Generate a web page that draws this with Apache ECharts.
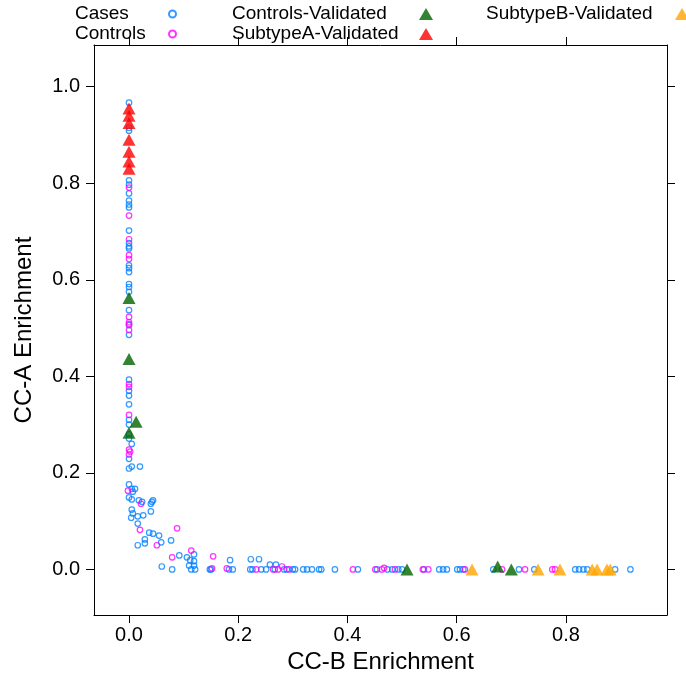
<!DOCTYPE html>
<html>
<head>
<meta charset="utf-8">
<script src="https://cdn.jsdelivr.net/npm/echarts@6/dist/echarts.min.js"></script>
<style>html,body{margin:0;padding:0;background:#fff}#c{width:686px;height:679px}</style>
</head>
<body>
<div id="c"></div>
<script>
// ---- data ----
var xTicks = [0, 0.2, 0.4, 0.6, 0.8];
var yTicks = [0, 0.2, 0.4, 0.6, 0.8, 1.0];
var seriesNames = ['Cases', 'Controls', 'Controls-Validated', 'SubtypeA-Validated', 'SubtypeB-Validated'];

var casesPts = [
  [0.000,0.967],[0.000,0.915],[0.000,0.909],[0.000,0.806],[0.000,0.797],[0.000,0.779],[0.000,0.764],
  [0.000,0.756],[0.000,0.750],[0.000,0.702],[0.000,0.676],[0.000,0.669],[0.000,0.665],[0.000,0.630],
  [0.000,0.624],[0.000,0.616],[0.000,0.591],[0.000,0.585],[0.000,0.575],[0.000,0.537],[0.000,0.506],
  [0.000,0.486],[0.000,0.393],[0.000,0.370],[0.000,0.360],[0.000,0.342],[0.000,0.310],[0.000,0.300],
  [0.000,0.280],[0.000,0.271],[0.005,0.260],[0.000,0.229],[0.000,0.209],[0.005,0.213],[0.020,0.213],
  [0.000,0.176],[0.005,0.167],[0.011,0.167],[0.007,0.161],[0.000,0.149],[0.005,0.145],[0.018,0.143],
  [0.024,0.140],[0.042,0.140],[0.044,0.143],[0.040,0.136],[0.005,0.124],[0.007,0.116],[0.004,0.107],
  [0.016,0.110],[0.026,0.112],[0.040,0.120],[0.016,0.095],[0.037,0.076],[0.055,0.070],[0.044,0.074],
  [0.029,0.062],[0.029,0.054],[0.059,0.056],[0.016,0.050],[0.077,0.060],[0.092,0.029],[0.106,0.025],
  [0.112,0.019],[0.119,0.031],[0.119,0.017],[0.110,0.008],[0.119,0.008],[0.185,0.019],[0.223,0.021],
  [0.238,0.021],[0.060,0.006],[0.258,0.010],[0.269,0.010],
  [0.079,0],[0.114,0],[0.121,0],[0.148,0],[0.150,0],[0.183,0],[0.190,0],[0.222,0],[0.226,0],[0.242,0],
  [0.251,0],[0.267,0],[0.284,0],[0.289,0],[0.300,0],[0.304,0],[0.319,0],[0.326,0],[0.335,0],[0.348,0],
  [0.352,0],[0.377,0],[0.419,0],[0.454,0],[0.473,0],[0.482,0],[0.493,0],[0.500,0],[0.540,0],[0.568,0],
  [0.575,0],[0.582,0],[0.601,0],[0.606,0],[0.612,0],[0.667,0],[0.714,0],[0.742,0],[0.817,0],[0.824,0],
  [0.832,0],[0.839,0],[0.890,0],[0.918,0]
];
var controlsPts = [
  [0.000,0.791],[0.000,0.733],[0.000,0.684],[0.000,0.651],[0.000,0.643],[0.000,0.523],[0.000,0.512],
  [0.000,0.508],[0.000,0.496],[0.000,0.384],[0.000,0.378],[0.000,0.320],[0.000,0.248],[0.002,0.244],
  [0.000,0.238],[-0.002,0.163],[0.022,0.136],[0.020,0.082],[0.088,0.085],[0.051,0.050],[0.114,0.039],
  [0.079,0.025],[0.154,0.027],
  [0.152,0.002],[0.179,0.002],[0.233,0],[0.264,0],[0.273,0],[0.280,0.006],[0.293,0],[0.410,0],[0.451,0],
  [0.463,0],[0.467,0.003],[0.487,0],[0.538,0],[0.548,0],[0.615,0],[0.683,0],[0.725,0],[0.775,0],[0.780,0]
];
var controlsValidatedPts = [[0,0.562],[0,0.436],[0.013,0.306],[0,0.283],[0.509,0],[0.675,0.006],[0.700,0]];
var subtypeAPts = [[0,0.955],[0,0.940],[0,0.925],[0,0.890],[0,0.865],[0,0.845],[0,0.830]];
var subtypeBPts = [[0.628,0],[0.749,0],[0.789,0],[0.848,0],[0.857,0],[0.875,0],[0.881,0]];

// ---- chart ----
var FONT = '"Liberation Sans", Arial, Helvetica, sans-serif';
var XMIN = -0.0641, XMAX = 0.985, YMIN = -0.0947, YMAX = 1.0864;
var fmt = function (v) { return Number(v).toFixed(1); };

function circleSeries(name, data, col) {
  return { name: name, type: 'scatter', data: data, symbol: 'circle', symbolSize: 5.5,
    itemStyle: { color: 'rgba(0,0,0,0)', borderColor: col, borderWidth: 1.2 }, emphasis: { disabled: true }, z: 2 };
}
function triSeries(name, data, col) {
  return { name: name, type: 'scatter', data: data, symbol: 'triangle', symbolSize: [13, 12],
    itemStyle: { color: col }, emphasis: { disabled: true }, z: 3 };
}
function legendCol(names, left, w, iw, ih) {
  return { data: names, orient: 'vertical', left: left, top: 4, padding: 0, align: 'right', itemWidth: iw, itemHeight: ih,
    itemGap: 0, selectedMode: false,
    formatter: function (n) { return '{a|' + n + '}'; },
    textStyle: { color: '#000', fontFamily: FONT, fontSize: 19, lineHeight: 20,
      rich: { a: { width: w, align: 'left', color: '#000', fontFamily: FONT, fontSize: 19, lineHeight: 20 } } } };
}
var axisCommon = {
  type: 'value', splitLine: { show: false },
  axisLine: { show: true, onZero: false, lineStyle: { color: '#000', width: 1 } }
};
var chart = echarts.init(document.getElementById('c'));
chart.setOption({
  animation: false,
  backgroundColor: '#fff',
  textStyle: { fontFamily: FONT },
  grid: { left: 94, right: 19, top: 45, bottom: 60, containLabel: false },
  legend: [
    legendCol([seriesNames[0], seriesNames[1]], 75, 89, 7, 7),
    legendCol([seriesNames[2], seriesNames[3]], 232, 182, 14, 12),
    legendCol([seriesNames[4]], 486, 184, 14, 12)
  ],
  xAxis: [
    Object.assign({}, axisCommon, { position: 'bottom', min: XMIN, max: XMAX,
      axisTick: { show: true, length: 8, customValues: xTicks, lineStyle: { color: '#000' } },
      axisLabel: { customValues: xTicks, formatter: fmt, fontSize: 20, color: '#000', margin: 10, fontFamily: FONT },
      name: 'CC-B Enrichment', nameLocation: 'middle', nameGap: 33,
      nameTextStyle: { fontSize: 24, color: '#000', fontFamily: FONT } }),
    Object.assign({}, axisCommon, { position: 'top', min: XMIN, max: XMAX,
      axisTick: { show: true, length: 8, customValues: xTicks, lineStyle: { color: '#000' } },
      axisLabel: { show: false } })
  ],
  yAxis: [
    Object.assign({}, axisCommon, { position: 'left', min: YMIN, max: YMAX,
      axisTick: { show: true, length: 8, customValues: yTicks, lineStyle: { color: '#000' } },
      axisLabel: { customValues: yTicks, formatter: fmt, fontSize: 20, color: '#000', margin: 14, fontFamily: FONT },
      name: 'CC-A Enrichment', nameLocation: 'middle', nameGap: 58,
      nameTextStyle: { fontSize: 24, color: '#000', fontFamily: FONT } }),
    Object.assign({}, axisCommon, { position: 'right', min: YMIN, max: YMAX,
      axisTick: { show: true, length: 8, customValues: yTicks, lineStyle: { color: '#000' } },
      axisLabel: { show: false } })
  ],
  series: [
    circleSeries(seriesNames[0], casesPts, '#0080ff'),
    circleSeries(seriesNames[1], controlsPts, '#ff00ff'),
    triSeries(seriesNames[2], controlsValidatedPts, '#006400'),
    triSeries(seriesNames[3], subtypeAPts, '#ff0000'),
    triSeries(seriesNames[4], subtypeBPts, '#ffa500')
  ]
});
</script>
</body>
</html>
